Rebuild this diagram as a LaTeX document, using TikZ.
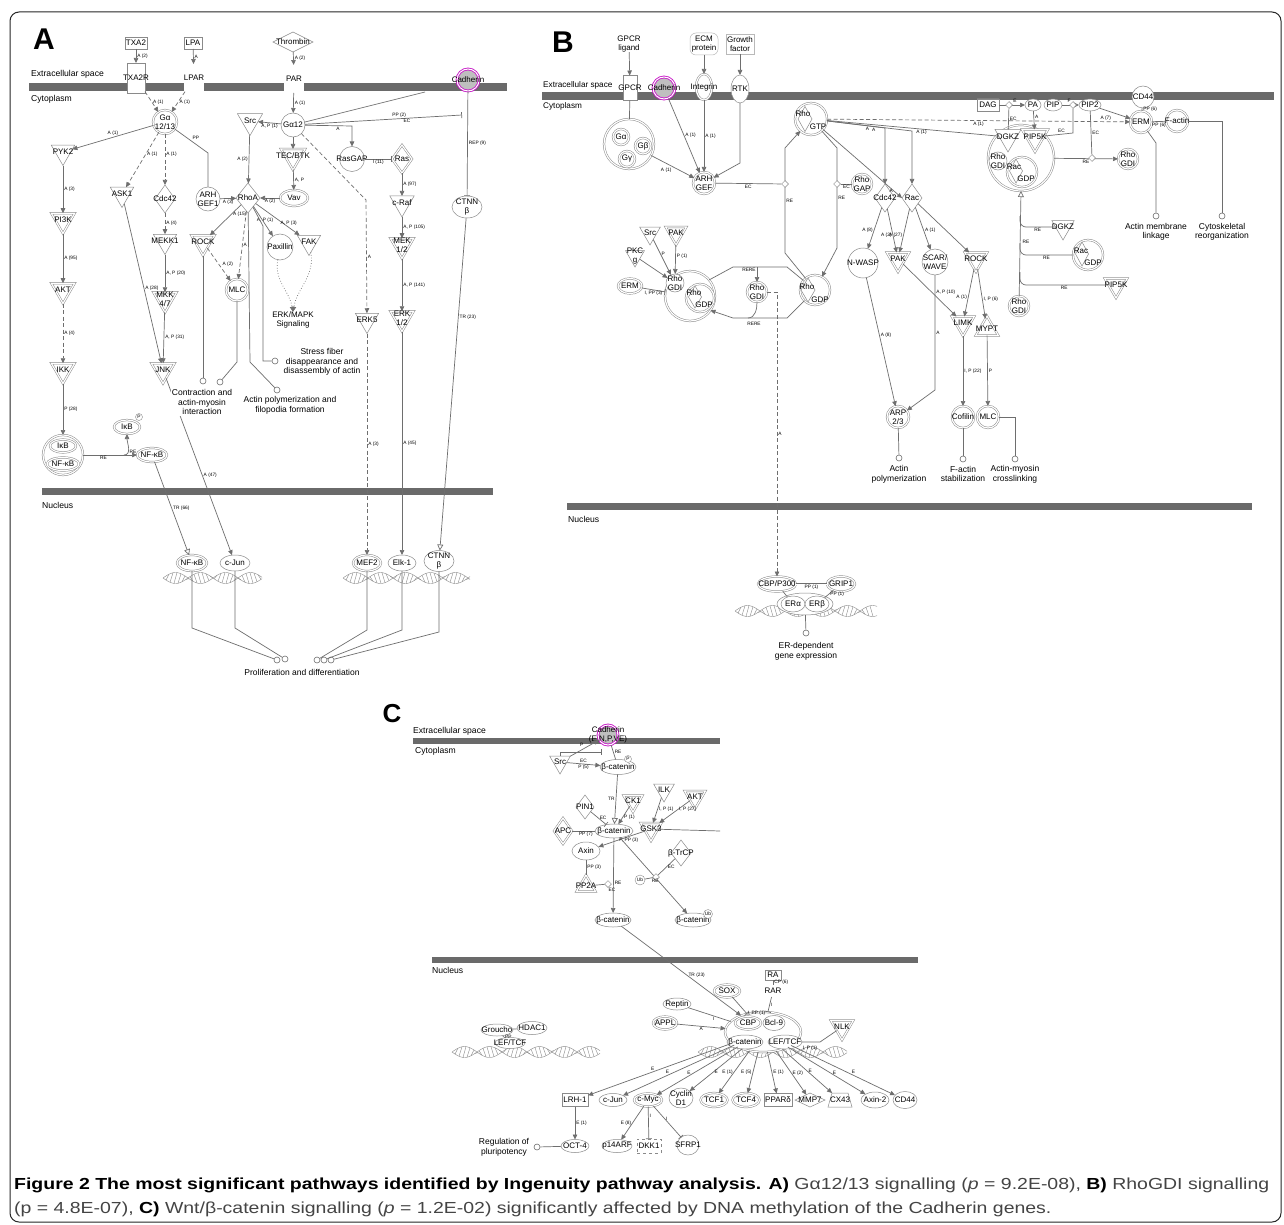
\documentclass[tikz,border=0pt]{standalone}
\usepackage{fontspec}
\setmainfont{Liberation Sans}
\usetikzlibrary{shapes.geometric,shapes.misc,arrows.meta}
\definecolor{lc}{HTML}{6E6E6E}
\definecolor{nc}{HTML}{8A8A8A}
\definecolor{bc}{HTML}{6A6A6A}
\definecolor{mag}{HTML}{C81EC8}
\definecolor{capgray}{HTML}{444444}
\newcommand\NdFont{\fontsize{8}{8.6}\selectfont}
\newcommand\EdFont{\fontsize{4.8}{5}\selectfont}
\newcommand\FnFont{\fontsize{8.5}{9.6}\selectfont}
\newcommand\CmpFont{\fontsize{8.6}{9}\selectfont}
\newcommand\helixDNA[3]{%
  \pgfmathsetmacro\hlen{#2-#1}%
  \draw[hx] plot[domain=0:\hlen, samples=70, smooth] ({#1+\x},{#3+5.5*sin(\x*7.2)});
  \draw[hx] plot[domain=0:\hlen, samples=70, smooth] ({#1+\x},{#3-5.5*sin(\x*7.2)});
  \pgfmathtruncatemacro\hend{\hlen-4}%
  \foreach \t in {3,7,...,\hend} {\draw[hx] ({#1+\t},{#3+5.5*sin(\t*7.2)}) -- ({#1+\t+3},{#3-5.5*sin((\t+3)*7.2)});}%
}
\newsavebox\capboxA
\newsavebox\capboxB
\tikzset{
  mlab/.style={font=\NdFont, align=center, inner sep=0pt, text=black},
  mol/.style={draw=nc, line width=0.5pt, fill=white, inner sep=0pt, outer sep=0pt, label={[mlab]center:{#1}}},
  dbl/.style={double=white, double distance=1.2pt},
  itri/.style={mol={#1}, regular polygon, regular polygon sides=3, shape border rotate=180, minimum size=26pt},
  utri/.style={mol={#1}, regular polygon, regular polygon sides=3, minimum size=26pt},
  circ/.style={mol={#1}, circle, minimum size=22pt},
  ell/.style={mol={#1}, ellipse, minimum width=28pt, minimum height=14pt},
  dia/.style={mol={#1}, diamond, minimum width=20pt, minimum height=28pt},
  rbox/.style={mol={#1}, rectangle, minimum width=18pt, minimum height=28pt},
  chem/.style={mol={#1}, chamfered rectangle, chamfered rectangle xsep=3pt, chamfered rectangle ysep=3pt, minimum width=22pt, minimum height=12pt},
  cad/.style={circle, draw=mag, line width=0.9pt, double=white, double distance=1pt, fill=black!25, minimum size=22pt, inner sep=0pt, label={[mlab]center:{#1}}},
  sm/.style={circle, draw=nc, line width=0.4pt, fill=white, inner sep=0.3pt, minimum size=7pt, font=\EdFont},
  smdia/.style={diamond, draw=nc, line width=0.5pt, fill=white, inner sep=0pt, minimum width=7pt, minimum height=7pt},
  fc/.style={circle, draw=lc, line width=0.6pt, fill=white, inner sep=0pt, minimum size=6pt},
  txt/.style={font=\NdFont, align=center, inner sep=0pt, text=black},
  comp/.style={font=\CmpFont, inner sep=0pt, anchor=west, text=black},
  panel/.style={font=\bfseries\fontsize{30}{30}\selectfont, inner sep=0pt},
  hx/.style={draw=nc, line width=0.4pt},
  ed/.style={draw=lc, line width=0.7pt},
  act/.style={ed, -{Triangle[length=5pt,width=4.5pt]}},
  oact/.style={ed, -{Triangle[open,length=6pt,width=6pt]}},
  inh/.style={ed, -{Bar[width=6pt]}},
  dsh/.style={dash pattern=on 4pt off 2.5pt},
  el/.style={font=\EdFont, inner sep=1pt, text=black},
}
\begin{document}
\sbox\capboxA{\fontsize{16}{18}\selectfont\textbf{Figure 2 The most significant pathways identified by Ingenuity pathway analysis. A)} {\color{capgray}Gα12/13 signalling (\textit{p} = 9.2E-08),} \textbf{B)} {\color{capgray}RhoGDI signalling}}%
\sbox\capboxB{\fontsize{16}{18}\selectfont{\color{capgray}(p = 4.8E-07),} \textbf{C)} {\color{capgray}Wnt/β-catenin signalling (\textit{p} = 1.2E-02) significantly affected by DNA methylation of the Cadherin genes.}}%
\pgfmathsetmacro\capsx{1255/\the\wd\capboxA}%
\begin{tikzpicture}[x=1pt,y=-1pt]
\useasboundingbox (0,0) rectangle (1284,1225);
\fill[white] (0,0) rectangle (1284,1225);
\draw[black!85, line width=1pt, rounded corners=9pt] (10,12) rectangle (1281,1222);

%================ PANEL A =================
\node[panel] (labA) at (44,39) {A};
\fill[bc] (29,83) rectangle (507,91);
\node[comp] (extA) at (31,74) {Extracellular space};
\node[comp] (cytA) at (31,99) {Cytoplasm};
\fill[bc] (42,488) rectangle (493,495);
\node[comp] (nucA) at (42,505) {Nucleus};
\helixDNA{163}{262}{578}
\helixDNA{343}{470}{578}

\node[chem=TXA2] (txa2) at (136,43) {};
\node[chem=LPA, minimum width=18pt] (lpa) at (193,43) {};
\node[dia=Thrombin, minimum width=40pt, minimum height=20pt] (thr) at (293,42) {};
\node[rbox=TXA2R, minimum height=30pt] (txa2r) at (136,78) {};
\node[rbox=LPAR, dbl] (lpar) at (194,78) {};
\node[rbox=PAR, dbl] (par) at (294,79) {};
\node[cad=Cadherin] (cadA) at (468,80) {};
\node[circ={Gα\\12/13}, dbl, minimum size=24pt] (ga1213) at (165,122) {};
\node[circ=Gα12, minimum size=24pt] (ga12) at (293,125) {};
\node[itri=Src, minimum size=29pt] (srcA) at (250,121) {};
\node[itri=PYK2, minimum size=27pt] (pyk2) at (63,152) {};
\node[itri=PI3K, dbl, minimum size=27pt] (pi3k) at (63,220) {};
\node[itri=AKT, dbl, minimum size=27pt] (aktA) at (63,290) {};
\node[itri=IKK, dbl, minimum size=27pt] (ikk) at (63,370) {};
\node[itri=ASK1, minimum size=27pt] (ask1) at (122,194) {};
\node[dia=Cdc42] (cdcA) at (165,199) {};
\node[itri=MEKK1, minimum size=27pt] (mekk1) at (165,241) {};
\node[itri={MKK\\4/7}, dbl, minimum size=27pt] (mkk) at (165,299) {};
\node[itri=JNK, dbl, minimum size=27pt] (jnk) at (163,370) {};
\node[circ={ARH\\GEF1}, minimum size=24pt] (arhA) at (208,199) {};
\node[dia=RhoA, minimum width=24pt, minimum height=30pt] (rhoA) at (248,198) {};
\node[itri=TEC/BTK, dbl, minimum size=28pt] (tec) at (293,156) {};
\node[ell=Vav, dbl, minimum width=28pt, minimum height=16pt] (vav) at (294,198) {};
\node[circ=RasGAP, minimum size=25pt] (rasgap) at (352,159) {};
\node[dia=Ras, dbl] (ras) at (402,159) {};
\node[itri=c-Raf, minimum size=28pt] (craf) at (402,203) {};
\node[itri={MEK\\1/2}, dbl, minimum size=27pt] (mek) at (402,245) {};
\node[itri={ERK\\1/2}, dbl, minimum size=27pt] (erk) at (402,318) {};
\node[itri=ERK5, minimum size=27pt] (erk5) at (367,320) {};
\node[ell={CTNN\\β}, minimum width=30pt, minimum height=22pt] (ctnnA) at (467,207) {};
\node[itri=ROCK, dbl, minimum size=27pt] (rockA) at (203,242) {};
\node[circ=MLC, dbl] (mlcA) at (237,290) {};
\node[circ=Paxillin, minimum size=26pt] (pax) at (280,247) {};
\node[itri=FAK, minimum size=27pt] (fak) at (309,242) {};
\node[txt] (erkmapk) at (293,320) {ERK/MAPK\\Signaling};
\node[fc] (fcStress) at (275,361) {};
\node[txt, font=\FnFont] (tStress) at (322,362) {Stress fiber\\disappearance and\\disassembly of actin};
\node[fc] (fcActin) at (277,390) {};
\node[txt, font=\FnFont] (tActin) at (290,405) {Actin polymerization and\\filopodia formation};
\node[fc] (fcCon1) at (203,381) {};
\node[fc] (fcCon2) at (220,382) {};
\node[circ={}, dbl, minimum size=40pt] (ikbcx) at (63,455) {};
\node[ell=IκB, dbl, minimum width=26pt, minimum height=13pt] (ikb1) at (63,446) {};
\node[ell=NF-κB, dbl, minimum width=32pt, minimum height=13pt] (nfkb1) at (63,464) {};
\node[ell=IκB, dbl, minimum width=26pt, minimum height=14pt] (ikbP) at (127,427) {};
\node[sm] (pP) at (139,417) {P};
\node[ell=NF-κB, dbl, minimum width=30pt, minimum height=14pt] (nfkbA) at (152,455) {};
\node[ell=NF-κB, dbl, minimum width=30pt, minimum height=16pt] (nfkbN) at (192,563) {};
\node[ell=c-Jun, minimum width=30pt, minimum height=16pt] (cjunA) at (235,563) {};
\node[ell=MEF2, dbl, minimum width=28pt, minimum height=16pt] (mef2) at (367,563) {};
\node[ell=Elk-1, minimum width=28pt, minimum height=16pt] (elk1) at (402,563) {};
\node[ell={CTNN\\β}, minimum width=30pt, minimum height=21pt] (ctnnN) at (439,561) {};
\node[fc] (pf1) at (277,660) {};
\node[fc] (pf2) at (285,659) {};
\node[fc] (pf3) at (317,660) {};
\node[fc] (pf4) at (324,660) {};
\node[fc] (pf5) at (331,660) {};
\node[txt, font=\FnFont] (tProlif) at (302,672) {Proliferation and differentiation};
\coordinate (cadFoot) at (425,92);
\coordinate (inhT) at (462,115);
\coordinate (jIkb) at (124,455);

\draw[act] (txa2) -- node[el,right]{A (2)} (txa2r);
\draw[act] (lpa) -- node[el,right]{A} (lpar);
\draw[act] (thr) -- node[el,right]{A (2)} (par);
\draw[act,dsh] (txa2r) -- node[el,right]{A (1)} (ga1213);
\draw[act,dsh] (lpar) -- node[el,right]{A (1)} (ga1213);
\draw[act] (par) -- node[el,right]{A (1)} (ga12);
\draw[act] (ga12) -- node[el,below]{A, P (1)} (srcA);
\draw[act] (ga12) -- (tec);
\draw[act] (tec) -- node[el,right]{A, P} (vav);
\draw[act] (ga12) -- node[el,below,pos=.7]{A} (352,126) -- (rasgap);
\draw[inh] (rasgap) -- node[el,below]{I (11)} (ras);
\draw[act] (ras) -- node[el,right]{A (97)} (craf);
\draw[act] (craf) -- node[el,right]{A, P (105)} (mek);
\draw[act] (mek) -- node[el,right]{A, P (141)} (erk);
\draw[act,dsh] (ga12) -- (366,200) -- node[el,right]{A} (erk5);
\draw[ed] (ga12) -- (cadFoot);
\draw[inh] (ga12) -- node[el,above,pos=.6]{PP (2)} node[el,below,pos=.65]{EC} (inhT);
\draw[inh] (cadA) -- node[el,right]{REP (9)} (ctnnA);
\draw[oact] (ctnnA) -- node[el,right,pos=.3]{TR (23)} (ctnnN);
\draw[act] (ga1213) -- node[el,above]{A (1)} (pyk2);
\draw[act,dsh] (ga1213) -- node[el,right,pos=.4]{A (1)} (ask1);
\draw[act,dsh] (ga1213) -- node[el,right,pos=.4]{A (1)} (cdcA);
\draw[ed] (ga1213) -- node[el,above right]{PP} (208,153) -- (arhA);
\draw[act] (pyk2) -- node[el,right]{A (3)} (pi3k);
\draw[act] (pi3k) -- node[el,right]{A (95)} (aktA);
\draw[act,dsh] (aktA) -- node[el,right]{A (4)} (ikk);
\draw[act] (ikk) -- node[el,right]{P (28)} (ikbcx);
\draw[act,dsh] (cdcA) -- node[el,right]{A (4)} (mekk1);
\draw[act] (mekk1) -- node[el,right]{A, P (20)} (mkk);
\draw[act] (mkk) -- node[el,right]{A, P (31)} (jnk);
\draw[act] (ask1) -- node[el,right,pos=.53]{A (28)} (jnk);
\draw[act] (arhA) -- node[el,below]{A (3)} (rhoA);
\draw[act] (srcA) -- node[el,left]{A (2)} (rhoA);
\draw[act] (vav) -- node[el,below]{A (2)} (rhoA);
\draw[act] (rhoA) -- node[el,right,pos=.3]{A (15)} (rockA);
\draw[act,dsh] (rhoA) -- node[el,right]{A} (mlcA);
\draw[act,dsh] (rockA) -- node[el,above right,pos=.6]{A (2)} (mlcA);
\draw[act] (rhoA) -- node[el,above,pos=.6]{A, P (1)} (pax);
\draw[act] (rhoA) -- node[el,above,pos=.75]{A, P (3)} (fak);
\draw[act,dotted] (pax) to[out=-100,in=100] (erkmapk.north);
\draw[act,dotted] (fak) to[out=-80,in=80] (erkmapk.north);
\draw[ed] (rhoA) -- (250,362) -- (fcActin);
\draw[ed] (rhoA) -- (263,226) -- (263,361) -- (fcStress);
\draw[ed] (rockA) -- (fcCon1);
\draw[ed] (mlcA) -- (237,362) -- (fcCon2);
\draw[act] (jnk) -- node[el,right,pos=.55]{A (47)} (cjunA);
\node[txt, font=\FnFont, fill=white, inner sep=1pt] (tCon) at (202,402) {Contraction and\\actin-myosin\\interaction};
\draw[ed] (ikbcx) -- node[el,below]{RE} (jIkb);
\draw[act] (jIkb) -- (nfkbA);
\draw[act] (jIkb) to[out=0,in=-90] node[el,right,pos=.3]{RE} (ikbP);
\draw[oact] (nfkbA) -- node[el,right]{TR (66)} (nfkbN);
\draw[act,dsh] (erk5) -- node[el,right]{A (3)} (mef2);
\draw[act] (erk) -- node[el,right]{A (45)} (elk1);
\draw[ed] (nfkbN) -- (192,628) -- (pf1);
\draw[ed] (cjunA) -- (235,628) -- (pf2);
\draw[ed] (mef2) -- (367,630) -- (pf3);
\draw[ed] (elk1) -- (402,630) -- (pf4);
\draw[ed] (ctnnN) -- (439,632) -- (pf5);

%================ PANEL B =================
\node[panel] (labB) at (563,42) {B};
\fill[bc] (542,92) rectangle (1274,100);
\node[comp, font=\fontsize{8.2}{9}\selectfont] (extB) at (543,85) {Extracellular space};
\node[comp, font=\fontsize{8.2}{9}\selectfont] (cytB) at (543,106) {Cytoplasm};
\fill[bc] (567,503) rectangle (1252,510);
\node[comp] (nucB) at (568,519) {Nucleus};
\helixDNA{735}{877}{611}

\node[txt] (gpcrl) at (629,44) {GPCR\\ligand};
\node[rbox=GPCR, minimum width=14pt, minimum height=25pt] (gpcr) at (630,88) {};
\node[mol={ECM\\protein}, rounded corners=6pt, draw=nc!60, minimum width=28pt, minimum height=22pt] (ecm) at (704,44) {};
\node[mol={Growth\\factor}, draw=nc!60, minimum width=28pt, minimum height=20pt] (gf) at (740,44) {};
\node[cad=Cadherin] (cadB) at (664,88) {};
\node[ell=Integrin, dbl, minimum width=16pt, minimum height=26pt] (integ) at (704,87) {};
\node[ell=RTK, minimum width=18pt, minimum height=28pt] (rtk) at (740,89) {};
\node[circ={}, dbl, minimum size=50pt] (gcx) at (629,144) {};
\node[circ=Gα, dbl, minimum size=16pt] (gaB) at (621,137) {};
\node[circ=Gβ, dbl, minimum size=16pt] (gbB) at (643,146) {};
\node[circ=Gγ, dbl, minimum size=16pt] (ggB) at (627,159) {};
\node[circ={ARH\\GEF}, dbl] (arhB) at (704,183) {};
% Rho-GTP
\node[circ={}, dbl, minimum size=32pt] (rhogtp) at (811,119) {};
\node[dia={}, minimum width=14pt, minimum height=25pt] (rhogtpD) at (805,119) {};
\node[txt] (rhogtpT1) at (803,114) {Rho};
\node[txt] (rhogtpT2) at (818,127) {GTP};
% Rho-GDP right
\node[circ={}, dbl, minimum size=30pt] (rhogdpR) at (815,290) {};
\node[dia={}, minimum width=14pt, minimum height=24pt] (rhogdpRD) at (808,290) {};
\node[txt] (rhogdpRT1) at (807,287) {Rho};
\node[txt] (rhogdpRT2) at (820,300) {GDP};
\node[circ={Rho\\GAP}, dbl, minimum size=20pt] (rhogap) at (862,184) {};
% lower left complex
\node[circ={}, dbl, minimum size=50pt] (lgcx) at (690,296) {};
\node[circ={Rho\\GDI}, minimum size=18pt] (lgdi) at (675,283) {};
\node[circ={}, dbl, minimum size=28pt] (lgdp) at (700,298) {};
\node[dia={}, minimum width=13pt, minimum height=22pt] (lgdpD) at (695,297) {};
\node[txt] (lgdpT1) at (694,293) {Rho};
\node[txt] (lgdpT2) at (704,305) {GDP};
\node[circ={Rho\\GDI}, dbl, minimum size=20pt] (mgdi) at (757,292) {};
\node[itri=Src, minimum size=24pt] (srcB) at (650,233) {};
\node[itri=PAK, dbl, minimum size=24pt] (pakB1) at (676,233) {};
\node[itri={PKC\\g}, minimum size=22pt] (pkcg) at (635,256) {};
\node[ell=ERM, dbl, minimum width=24pt, minimum height=15pt] (ermB1) at (630,286) {};
% middle
\node[dia=Cdc42] (cdcB) at (885,198) {};
\node[dia=Rac] (rac) at (912,198) {};
\node[circ=N-WASP, minimum size=30pt] (nwasp) at (863,263) {};
\node[itri=PAK, dbl, minimum size=26pt] (pakB2) at (898,259) {};
\node[circ={SCAR/\\WAVE}, minimum size=26pt] (scar) at (935,262) {};
\node[itri=ROCK, dbl, minimum size=26pt] (rockB) at (976,259) {};
\node[itri=LIMK, dbl, minimum size=26pt] (limk) at (963,323) {};
\node[utri=MYPT, dbl, minimum size=26pt] (mypt) at (987,329) {};
\node[circ={ARP\\2/3}, dbl] (arp) at (898,417) {};
\node[circ=Cofilin, dbl] (cof) at (963,417) {};
\node[circ=MLC, dbl] (mlcB) at (988,417) {};
\node[fc] (fcAP) at (899,458) {};
\node[txt, font=\FnFont] (tAP) at (899,474) {Actin\\polymerization};
\node[fc] (fcFS) at (963,459) {};
\node[txt, font=\FnFont] (tFS) at (963,474) {F-actin\\stabilization};
\node[fc] (fcAM) at (1015,459) {};
\node[txt, font=\FnFont] (tAM) at (1015,474) {Actin-myosin\\crosslinking};
% right
\node[chem=DAG] (dag) at (988,105) {};
\node[ell=PA, minimum width=16pt, minimum height=12pt] (pa) at (1033,105) {};
\node[ell=PIP, minimum width=18pt, minimum height=12pt] (pip) at (1053,105) {};
\node[ell=PIP2, minimum width=22pt, minimum height=12pt] (pip2) at (1090,105) {};
\node[circ={}, dbl, minimum size=66pt] (bigcx) at (1021,158) {};
\node[circ={Rho\\GDI}, minimum size=18pt] (bgdi) at (998,161) {};
\node[circ={}, dbl, minimum size=30pt] (bracgdp) at (1022,172) {};
\node[dia={}, minimum width=13pt, minimum height=24pt] (bracgdpD) at (1016,171) {};
\node[txt] (bracgdpT1) at (1014,167) {Rac};
\node[txt] (bracgdpT2) at (1026,179) {GDP};
\node[itri=DGKZ, minimum size=30pt] (dgkz) at (1008,137) {};
\node[itri=PIP5K, dbl, minimum size=30pt] (pip5k) at (1035,137) {};
\node[circ={Rho\\GDI}, dbl, minimum size=20pt] (rgdiR) at (1128,159) {};
\node[circ=CD44, minimum size=22pt] (cd44) at (1143,97) {};
\node[circ=ERM, dbl] (ermB2) at (1141,122) {};
\node[circ=F-actin, dbl] (fact) at (1177,121) {};
\node[fc] (fcAML) at (1156,216) {};
\node[txt, font=\FnFont] (tAML) at (1156,232) {Actin membrane\\linkage};
\node[fc] (fcCR) at (1222,216) {};
\node[txt, font=\FnFont] (tCR) at (1222,232) {Cytoskeletal\\reorganization};
\node[circ={Rho\\GDI}, dbl, minimum size=20pt] (rgdiL) at (1019,306) {};
\node[itri=DGKZ, minimum size=26pt] (dgkz2) at (1063,227) {};
\node[circ={}, dbl, minimum size=30pt] (racgdp2) at (1088,255) {};
\node[dia={}, minimum width=13pt, minimum height=24pt] (racgdp2D) at (1082,254) {};
\node[txt] (racgdp2T1) at (1081,251) {Rac};
\node[txt] (racgdp2T2) at (1093,263) {GDP};
\node[itri=PIP5K, dbl, minimum size=26pt] (pip5k2) at (1116,285) {};
% nucleus B
\node[ell=CBP/P300, dbl, minimum width=38pt, minimum height=15pt] (cbp) at (777,584) {};
\node[ell=GRIP1, dbl, minimum width=28pt, minimum height=15pt] (grip) at (841,584) {};
\node[ell={}, minimum width=56pt, minimum height=22pt] (ercx) at (805,604) {};
\node[ell=ERα, minimum width=24pt, minimum height=16pt] (era) at (793,604) {};
\node[ell=ERβ, minimum width=24pt, minimum height=16pt] (erb) at (817,604) {};
\node[fc] (fcER) at (806,633) {};
\node[txt, font=\FnFont] (tER) at (806,651) {ER-dependent\\gene expression};

% edges B
\draw[act] (gpcrl) -- (gpcr);
\draw[act] (ecm) -- (integ);
\draw[act] (gf) -- (rtk);
\draw[ed] (gpcr) -- (gcx);
\draw[act] (gcx) -- node[el,below left]{A (1)} (arhB);
\draw[act] (cadB) -- node[el,right,pos=.5]{A (1)} (arhB);
\draw[act] (integ) -- node[el,right]{A (1)} (arhB);
\draw[act] (rtk) -- (740,163) -- (arhB);
\draw[act] (rhogdpR) -- (785,253) -- node[el,right]{RE} (785,148) -- (rhogtp);
\draw[act] (rhogtp) -- (837,148) -- node[el,right]{RE} (837,248) -- (rhogdpR);
\draw[act] (srcB) -- node[el,right,pos=.4]{P} (lgdi);
\draw[act] (pakB1) -- node[el,right,pos=.4]{P (1)} (lgdi);
\draw[act] (pkcg) -- (lgdi);
\draw[inh] (ermB1) -- node[el,below]{I, PP (3)} (lgcx);
\draw[ed] (lgcx.40) -- (733,267) -- (787,267) -- (rhogdpR);
\draw[act] (rhogdpR) -- (787,318) -- (733,318) -- (lgcx.-35);
\draw[act] (757,267) -- node[el,left,pos=.2]{RERE} (mgdi);
\draw[ed] (mgdi) to[out=-90,in=0] (748,318);
\node[el] (lRERE) at (754,324) {RERE};
\draw[act,dsh] (mgdi) -- (777,292) -- node[el,right]{A} (cbp);
\draw[act] (rhogtp) -- node[el,below,pos=.7]{A} (885,128) -- (cdcB);
\draw[act] (rhogtp) -- node[el,below,pos=.55]{A} (912,131) -- (rac);
\draw[act] (rhogtp) -- node[el,left,pos=.9]{A} (rac.west);
\draw[act] (cdcB) -- node[el,left,pos=.55]{A (8)} (nwasp);
\draw[act] (cdcB) -- node[el,left,pos=.6]{A (2)} (pakB2);
\draw[act] (rac) -- node[el,left,pos=.6]{A (27)} (pakB2);
\draw[act] (rac) -- node[el,right,pos=.55]{A (1)} (scar);
\draw[act] (rac) -- (rockB);
\draw[act] (pakB2) -- node[el,above right,pos=.6]{A, P (10)} (limk);
\draw[act] (rockB) -- node[el,left,pos=.6]{A (1)} (limk);
\draw[act] (rockB) -- node[el,right,pos=.6]{I, P (6)} (mypt);
\draw[act] (nwasp) -- node[el,right,pos=.45]{A (8)} (arp);
\draw[act] (scar) -- node[el,right]{A} (935,390) -- (arp);
\draw[act] (limk) -- node[el,right]{I, P (22)} (cof);
\draw[act] (mypt) -- node[el,right]{P} (mlcB);
\draw[ed] (arp) -- (fcAP);
\draw[ed] (cof) -- (fcFS);
\draw[ed] (mlcB) -- (1015,417) -- (fcAM);
\draw[act] (dag) -- (pa);
\draw[act] (pip) -- (pip2);
\draw[act] (pa) -- node[el,right,pos=.3]{A} (pip5k);
\draw[act] (bigcx) -- node[el,below]{RE} (rgdiR);
\draw[act] (pip2) -- (ermB2);
\draw[act,dsh] (rhogtp) -- node[el,below,pos=.5]{A (1)} node[el,above,pos=.92]{A (7)} (ermB2);
\draw[ed] (rhogtp) -- node[el,below,pos=.55]{A (1)} (dgkz);
\draw[ed] (cd44) -- node[el,right]{PP (6)} (ermB2);
\draw[ed] (ermB2) -- node[el,below]{PP (6)} (fact);
\draw[ed] (ermB2) -- (1156,143) -- (fcAML);
\draw[ed] (fact) -- (1222,121) -- (fcCR);
\draw[oact] (rgdiL) -- (bigcx.south);
\draw[ed, rounded corners=6pt] (1020,216) |- node[el,below,pos=.75]{RE} (dgkz2);
\draw[ed, rounded corners=6pt] (1020,243) |- node[el,below,pos=.75]{RE} (racgdp2);
\draw[ed, rounded corners=6pt] (1020,272) |- node[el,below,pos=.75]{RE} (pip5k2);
\node[el] (lRE2) at (1026,242) {RE};
\draw[ed, double=white, double distance=1pt] (cbp) -- node[el,below]{PP (1)} (grip);
\draw[ed] (cbp) -- (era);
\draw[ed] (grip) -- node[el,right]{PP (1)} (erb);
\draw[ed] (ercx) -- (fcER);
% overlay diamonds B
\node[smdia] (dEC1) at (785,184) {};
\node[smdia] (dEC2) at (837,184) {};
\draw[ed] (arhB) -- node[el,below]{EC} (dEC1);
\draw[ed] (rhogap) -- node[el,below]{EC} (dEC2);
\node[smdia] (dE) at (1009,105) {};
\node[smdia] (dF) at (1073,105) {};
\node[smdia] (d3) at (1092,158) {};
\draw[ed] (dE) -- node[el,right]{EC} (dgkz);
\node[el] (lE) at (1015,101) {E};
\node[el] (lF) at (1069,101) {F};
\draw[ed] (dF) -- (1073,133) -- node[el,above,pos=.4]{EC} (pip5k);
\draw[ed] (pip2) -- node[el,right]{EC} (d3);

%================ PANEL C =================
\node[panel, font=\bfseries\fontsize{26}{26}\selectfont] (labC) at (392,714) {C};
\fill[bc] (413,738) rectangle (720,744);
\node[comp] (extC) at (413,731) {Extracellular space};
\node[comp] (cytC) at (415,751) {Cytoplasm};
\fill[bc] (432,957) rectangle (918,963);
\node[comp] (nucC) at (432,970) {Nucleus};
\helixDNA{452}{600}{1052}
\helixDNA{698}{847}{1052}

\node[cad={Cadherin\\(E,N,P,VE)}, minimum size=20pt] (cadC) at (608,735) {};
\node[itri=Src, minimum size=24pt] (srcC) at (560,762) {};
\node[ell=β-catenin, minimum width=36pt, minimum height=15pt] (bcat1) at (618,767) {};
\node[sm] (bcatP) at (628,759) {P};
\node[itri=CK1, dbl, minimum size=22pt] (ck1) at (633,801) {};
\node[itri=ILK, minimum size=24pt] (ilk) at (664,790) {};
\node[itri=AKT, dbl, minimum size=24pt] (aktC) at (695,797) {};
\node[dia=PIN1, minimum width=18pt, minimum height=24pt] (pin1) at (585,807) {};
\node[dia=APC, dbl, minimum width=18pt, minimum height=26pt] (apc) at (563,831) {};
\node[ell=β-catenin, minimum width=38pt, minimum height=14pt] (bcat2) at (614,831) {};
\node[itri=GSK3, dbl, minimum size=24pt] (gsk3) at (651,829) {};
\node[ell=Axin, minimum width=28pt, minimum height=18pt] (axin) at (586,851) {};
\node[dia=β-TrCP, minimum width=20pt, minimum height=26pt] (btrcp) at (681,853) {};
\node[sm, minimum size=10pt] (ubC) at (640,880) {Ub};
\node[utri=PP2A, dbl, minimum size=22pt] (pp2a) at (586,886) {};
\node[ell=β-catenin, minimum width=36pt, minimum height=14pt] (bcat3) at (613,920) {};
\node[ell=β-catenin, minimum width=36pt, minimum height=14pt] (bcat4) at (693,920) {};
\node[sm, minimum size=9pt] (ub2) at (708,914) {Ub};
% nucleus C
\node[ell={}, dbl, minimum width=76pt, minimum height=40pt] (bcx) at (763,1032) {};
\node[ell=CBP, dbl, minimum width=26pt, minimum height=13pt] (cbpC) at (748,1023) {};
\node[ell=Bcl-9, minimum width=22pt, minimum height=15pt] (bcl9) at (774,1023) {};
\node[ell=β-catenin, minimum width=36pt, minimum height=14pt] (bcat5) at (745,1042) {};
\node[ell=LEF/TCF, minimum width=34pt, minimum height=14pt] (lef) at (785,1042) {};
\node[ell=SOX, dbl, minimum width=26pt, minimum height=13pt] (sox) at (727,991) {};
\node[rbox=RA, minimum width=16pt, minimum height=10pt] (ra) at (773,975) {};
\node[rbox=RAR, dbl, minimum width=22pt, minimum height=12pt] (rar) at (773,991) {};
\node[ell=Reptin, minimum width=28pt, minimum height=12pt] (reptin) at (677,1004) {};
\node[ell=APPL, dbl, minimum width=24pt, minimum height=13pt] (appl) at (665,1023) {};
\node[itri=NLK, dbl, minimum size=26pt] (nlk) at (842,1027) {};
\node[ell=Groucho, minimum width=32pt, minimum height=12pt] (grou) at (497,1030) {};
\node[ell=HDAC1, minimum width=30pt, minimum height=13pt] (hdac) at (532,1028) {};
\node[ell=LEF/TCF, minimum width=30pt, minimum height=11pt] (lef2) at (510,1043) {};
\node[rbox=LRH-1, minimum width=26pt, minimum height=13pt] (lrh) at (575,1100) {};
\node[ell=c-Jun, minimum width=28pt, minimum height=13pt] (cjunC) at (613,1100) {};
\node[ell=c-Myc, dbl, minimum width=28pt, minimum height=13pt] (cmyc) at (648,1100) {};
\node[ell={Cyclin\\D1}, minimum width=24pt, minimum height=20pt] (cyc) at (681,1098) {};
\node[ell=TCF1, dbl, minimum width=27pt, minimum height=14pt] (tcf1) at (714,1100) {};
\node[ell=TCF4, dbl, minimum width=27pt, minimum height=14pt] (tcf4) at (746,1100) {};
\node[rbox=PPARδ, minimum width=28pt, minimum height=13pt] (ppard) at (778,1100) {};
\node[dia=MMP7, minimum width=30pt, minimum height=14pt] (mmp7) at (810,1100) {};
\node[mol=CX43, draw=none, fill=none, minimum width=24pt, minimum height=14pt] (cx43) at (840,1100) {};
\fill[white] ([xshift=4pt]cx43.north west) -- ([xshift=-4pt]cx43.north east) -- (cx43.south east) -- (cx43.south west) -- cycle;
\draw[draw=nc, line width=0.5pt] ([xshift=4pt]cx43.north west) -- ([xshift=-4pt]cx43.north east) -- (cx43.south east) -- (cx43.south west) -- cycle;
\node[mlab] (cx43t) at (cx43.center) {CX43};
\node[ell=Axin-2, minimum width=28pt, minimum height=16pt] (axin2) at (875,1100) {};
\node[ell=CD44, minimum width=24pt, minimum height=17pt] (cd44C) at (905,1100) {};
\node[ell=OCT-4, minimum width=28pt, minimum height=13pt] (oct4) at (575,1146) {};
\node[ell=p14ARF, minimum width=30pt, minimum height=13pt] (p14) at (617,1146) {};
\node[rbox=DKK1, dashed, minimum width=24pt, minimum height=14pt] (dkk1) at (649,1146) {};
\node[ell=SFRP1, minimum width=22pt, minimum height=20pt] (sfrp1) at (688,1145) {};
\node[fc] (fcPl) at (537,1147) {};
\node[txt, font=\FnFont] (tPl) at (504,1147) {Regulation of\\pluripotency};

% edges C
\draw[act] (srcC) -- node[el,above left,pos=.5]{P} (cadC);
\draw[inh] (srcC.north) -- (560,752) -- (602,752);
\draw[act] (srcC) -- node[el,above]{EC} node[el,below]{P (5)} (bcat1);
\draw[ed] (cadC) -- node[el,right]{RE} (bcat1);
\draw[oact] (bcat1) -- node[el,left,pos=.5]{TR} (bcat2);
\draw[act] (ck1) -- node[el,right,pos=.6]{P (1)} (bcat2);
\draw[act] (ilk) -- node[el,right,pos=.45]{I, P (1)} (gsk3);
\draw[act] (aktC) -- node[el,right,pos=.4]{I, P (27)} (gsk3);
\draw[ed] (gsk3) -- (720,831);
\draw[ed] (apc) -- node[el,below,pos=.6]{PP (7)} (bcat2);
\draw[inh] (pin1) -- node[el,right]{EC} (bcat2);
\draw[act] (gsk3) -- node[el,below,pos=.35]{P, PP (3)} (axin);
\draw[ed] (axin) -- node[el,right]{PP (3)} (pp2a);
\draw[act] (bcat2) -- node[el,right,pos=.6]{RE} (bcat3);
\draw[act] (bcat2) -- (bcat4);
\node[smdia] (dUb) at (656,877) {};
\draw[ed] (btrcp) -- node[el,right]{EC} (dUb);
\draw[ed] (ubC) -- node[el,below right,pos=.7]{RE} (dUb);
\node[smdia] (dPP) at (608,884) {};
\draw[ed] (pp2a) -- (dPP);
\node[el] (lEC3) at (612,890) {EC};
\draw[act] (bcat3) -- node[el,right,pos=.55]{TR (23)} (bcx);
\draw[inh] (sox) -- node[el,right,pos=.95]{I, PP (1)} (bcx);
\draw[ed] (ra) -- node[el,right]{CP (6)} (rar);
\draw[inh] (rar) -- node[el,right]{I} (bcx);
\draw[ed] (reptin) -- node[el,below,pos=.6]{I} (bcx);
\draw[act] (appl) -- node[el,below,pos=.5]{A} (bcx);
\draw[ed] (lef) -- (820,1042) -- (nlk);
\node[el] (lNLK) at (810,1048) {I, P (1)};
\draw[ed] (grou) -- (hdac);
\draw[ed] (grou) -- node[el,right]{PP} (lef2);
\draw[act] (bcx) -- node[el,above,pos=.55]{E} (lrh);
\draw[act] (bcx) -- node[el,above,pos=.6]{E} (cjunC);
\draw[act] (bcx) -- node[el,above,pos=.6]{E} (cmyc);
\draw[act] (bcx) -- node[el,right,pos=.55]{E} (cyc);
\draw[act] (bcx) -- node[el,left,pos=.5]{E (1)} (tcf1);
\draw[act] (bcx) -- node[el,left,pos=.5]{E (5)} (tcf4);
\draw[act] (bcx) -- node[el,right,pos=.5]{E (1)} (ppard);
\draw[act] (bcx) -- node[el,right,pos=.5]{E (2)} (mmp7);
\draw[act] (bcx) -- node[el,right,pos=.5]{E} (cx43);
\draw[act] (bcx) -- node[el,above,pos=.6]{E} (axin2);
\draw[act] (bcx) -- node[el,above,pos=.6]{E} (cd44C);
\draw[act] (lrh) -- node[el,right]{E (1)} (oct4);
\draw[ed] (oct4) -- (fcPl);
\draw[act] (cmyc) -- node[el,left]{E (8)} (p14);
\draw[inh] (cmyc) -- node[el,right,pos=.3]{I} (dkk1);
\draw[inh] (cmyc) -- node[el,right,pos=.4]{I} (sfrp1);

%================ CAPTION =================
\node[anchor=base west, inner sep=0pt] (cap1) at (14,1189) {\scalebox{\capsx}[1]{\usebox\capboxA}};
\node[anchor=base west, inner sep=0pt] (cap2) at (14,1213) {\scalebox{\capsx}[1]{\usebox\capboxB}};
\end{tikzpicture}
\end{document}
